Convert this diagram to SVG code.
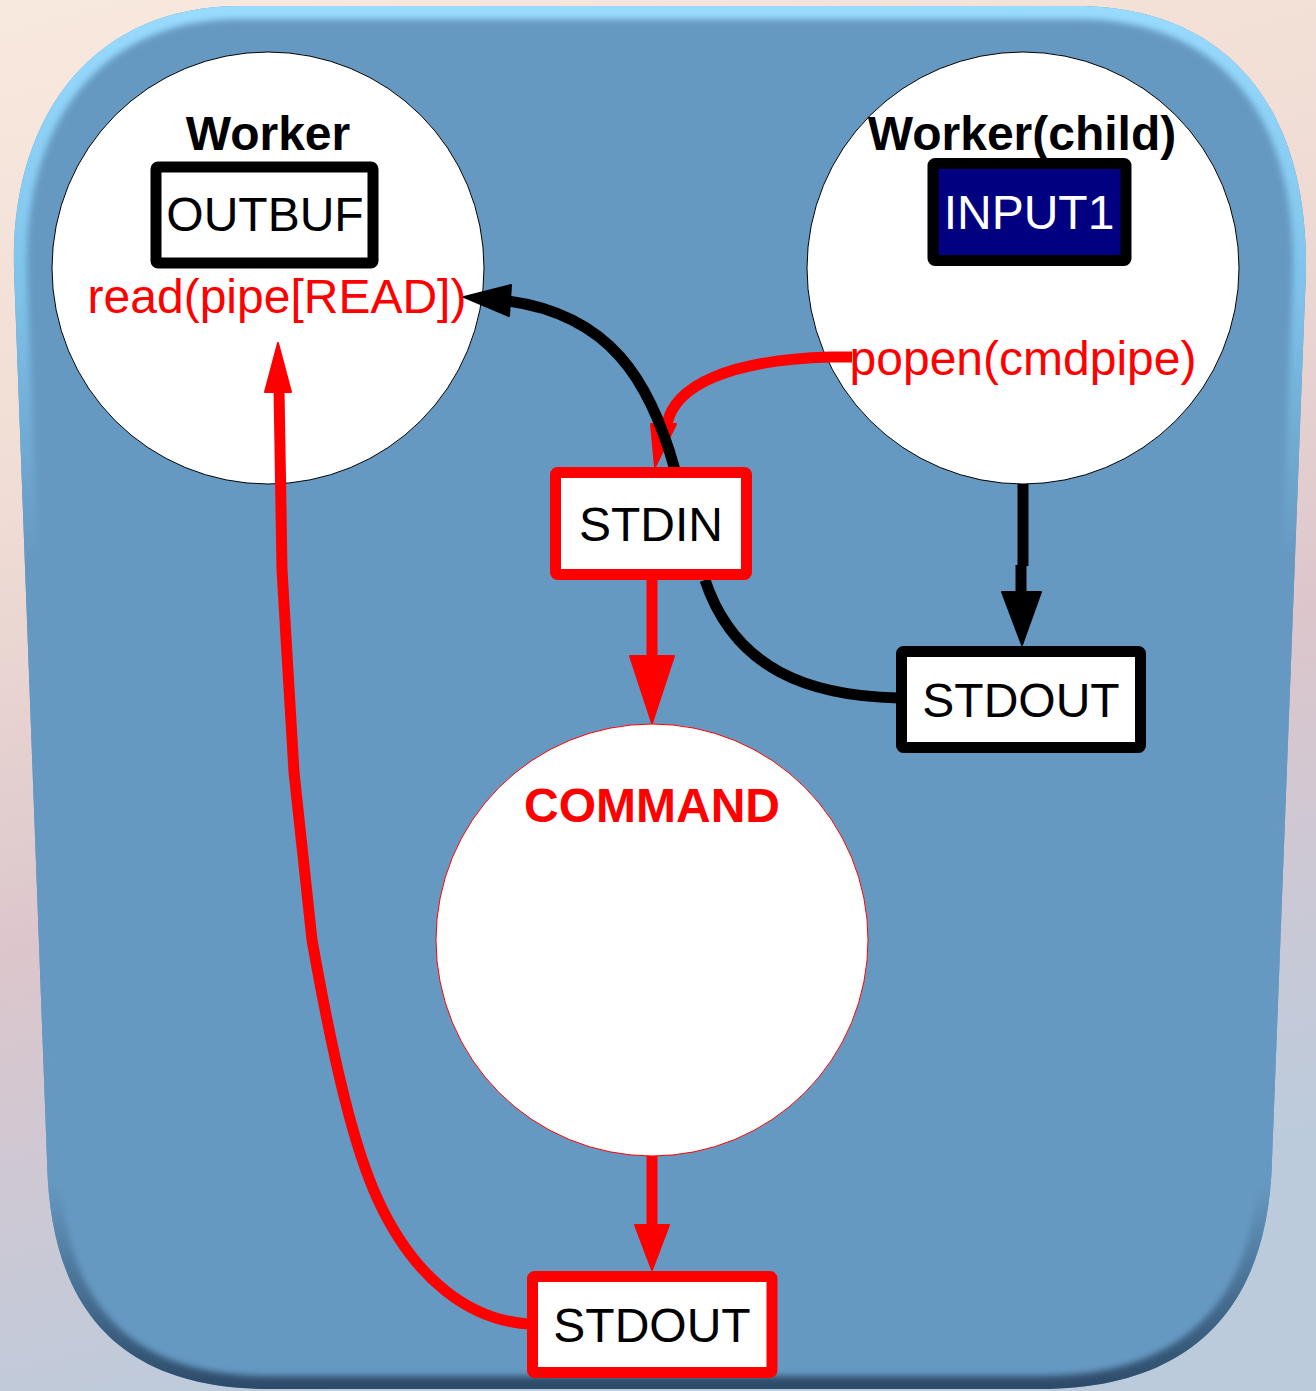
<svg xmlns="http://www.w3.org/2000/svg" width="1316" height="1391" viewBox="0 0 1316 1391">
  <defs>
    <linearGradient id="bg" x1="0" y1="0" x2="0.25" y2="1">
      <stop offset="0" stop-color="#f8e9df"/>
      <stop offset="0.35" stop-color="#f0dcd4"/>
      <stop offset="0.65" stop-color="#dcc6cc"/>
      <stop offset="1" stop-color="#bccbdc"/>
    </linearGradient>
    <linearGradient id="rim" gradientUnits="userSpaceOnUse" x1="0" y1="0" x2="0" y2="1391">
      <stop offset="0" stop-color="#9adcff"/>
      <stop offset="0.2" stop-color="#80c4ec"/>
      <stop offset="0.4" stop-color="#6699c2"/>
      <stop offset="0.85" stop-color="#6699c2"/>
      <stop offset="1" stop-color="#2c4a68"/>
    </linearGradient>
    <filter id="blur" x="-5%" y="-5%" width="110%" height="110%">
      <feGaussianBlur stdDeviation="3"/>
    </filter>
    <clipPath id="shapeClip">
      <path d="M 14,270 C 10,120 90,6 240,6 L 1075,6 C 1230,6 1308,110 1306,270 L 1272,1160 C 1268,1320 1180,1389 1040,1389 L 270,1389 C 130,1389 50,1320 47,1160 Z"/>
    </clipPath>
    <style>
      .lbl { font-family: "Liberation Sans", Arial, sans-serif; font-size: 48px; text-anchor: middle; }
      .bold { font-weight: bold; }
      .red { fill: #ff0000; }
      .blk { fill: #000000; }
      .circ { fill: #ffffff; stroke: #000000; stroke-width: 1; }
      .boxb { fill: #ffffff; stroke: #000000; stroke-width: 11; stroke-linejoin: round; }
      .boxr { fill: #ffffff; stroke: #ff0000; stroke-width: 11; stroke-linejoin: round; }
      .lineb { fill: none; stroke: #000000; stroke-width: 11; }
      .liner { fill: none; stroke: #ff0000; stroke-width: 11; }
      .headb { fill: #000000; stroke: #000000; stroke-width: 2; stroke-linejoin: round; }
      .headr { fill: #ff0000; stroke: #ff0000; stroke-width: 2; stroke-linejoin: round; }
    </style>
  </defs>

  <!-- background -->
  <rect x="0" y="0" width="1316" height="1391" fill="url(#bg)"/>

  <!-- blue container -->
  <g id="container">
    <path d="M 14,270 C 10,120 90,6 240,6 L 1075,6 C 1230,6 1308,110 1306,270 L 1272,1160 C 1268,1320 1180,1389 1040,1389 L 270,1389 C 130,1389 50,1320 47,1160 Z" fill="#6699c2"/>
    <g clip-path="url(#shapeClip)">
      <path d="M 14,270 C 10,120 90,6 240,6 L 1075,6 C 1230,6 1308,110 1306,270 L 1272,1160 C 1268,1320 1180,1389 1040,1389 L 270,1389 C 130,1389 50,1320 47,1160 Z" fill="none" stroke="url(#rim)" stroke-width="26" filter="url(#blur)"/>
    </g>
  </g>

  <!-- circles -->
  <g id="worker">
    <circle class="circ" cx="268" cy="268" r="216"/>
    <text class="lbl bold blk" x="268" y="150">Worker</text>
    <text class="lbl red" x="277" y="313">read(pipe[READ])</text>
  </g>
  <g id="worker-child">
    <circle class="circ" cx="1023" cy="268" r="216"/>
    <text class="lbl bold blk" x="1022" y="150">Worker(child)</text>
    <text class="lbl red" x="1023" y="375">popen(cmdpipe)</text>
  </g>
  <g id="command">
    <circle cx="652" cy="940" r="216" fill="#ffffff" stroke="#ff0000" stroke-width="1"/>
    <text class="lbl bold red" x="652" y="822">COMMAND</text>
  </g>

  <!-- connectors -->
  <g id="connectors">
    <!-- popen -> STDIN (red) -->
    <path class="liner" d="M 852,357 L 830,357 C 730,360 675,385 667,424"/>
    <polygon class="headr" points="651,424 676,424 655,467"/>
    <!-- STDIN -> read(pipe[READ]) (black) -->
    <path class="lineb" d="M 675,470 C 650,380 610,315 508,301"/>
    <polygon class="headb" points="511,285 509,316 464,297"/>
    <!-- STDOUT(black) -> STDIN -->
    <path class="lineb" d="M 898,698 C 810,696 735,670 705,580"/>
    <!-- Worker(child) -> STDOUT (black) -->
    <path class="lineb" d="M 1023,484 L 1023,566 M 1021,565 L 1021,596"/>
    <polygon class="headb" points="1002,592 1041,592 1022,645"/>
    <!-- STDIN -> COMMAND (red) -->
    <path class="liner" d="M 652,580 L 652,660"/>
    <polygon class="headr" points="630,656 674,656 652,723"/>
    <!-- COMMAND -> STDOUT (red) -->
    <path class="liner" d="M 652,1156 L 652,1228"/>
    <polygon class="headr" points="635,1225 669,1225 652,1270"/>
    <!-- STDOUT(red) -> Worker read -->
    <path class="liner" d="M 528,1324 C 470,1320 415,1280 378,1200 C 355,1150 335,1070 312,940 L 294,772 L 282,570 L 279,388"/>
    <polygon class="headr" points="265,392 291,392 278,343"/>
  </g>

  <!-- boxes -->
  <g id="outbuf">
    <rect class="boxb" x="156" y="167" width="217" height="96" rx="2"/>
    <text class="lbl blk" x="265" y="231">OUTBUF</text>
  </g>
  <g id="input1">
    <rect x="933" y="163.5" width="193" height="97" rx="2" fill="#000080" stroke="#000000" stroke-width="11" stroke-linejoin="round"/>
    <text class="lbl" fill="#ffffff" x="1029" y="229">INPUT1</text>
  </g>
  <g id="stdin">
    <rect class="boxr" x="555.5" y="472.5" width="191" height="102" rx="2"/>
    <text class="lbl blk" x="651" y="541">STDIN</text>
  </g>
  <g id="stdout-child">
    <rect class="boxb" x="901.5" y="651.5" width="239" height="96" rx="2"/>
    <text class="lbl blk" x="1021" y="717">STDOUT</text>
  </g>
  <g id="stdout-command">
    <rect class="boxr" x="532.5" y="1276.5" width="239.5" height="96" rx="2"/>
    <text class="lbl blk" x="652" y="1342">STDOUT</text>
  </g>
</svg>
